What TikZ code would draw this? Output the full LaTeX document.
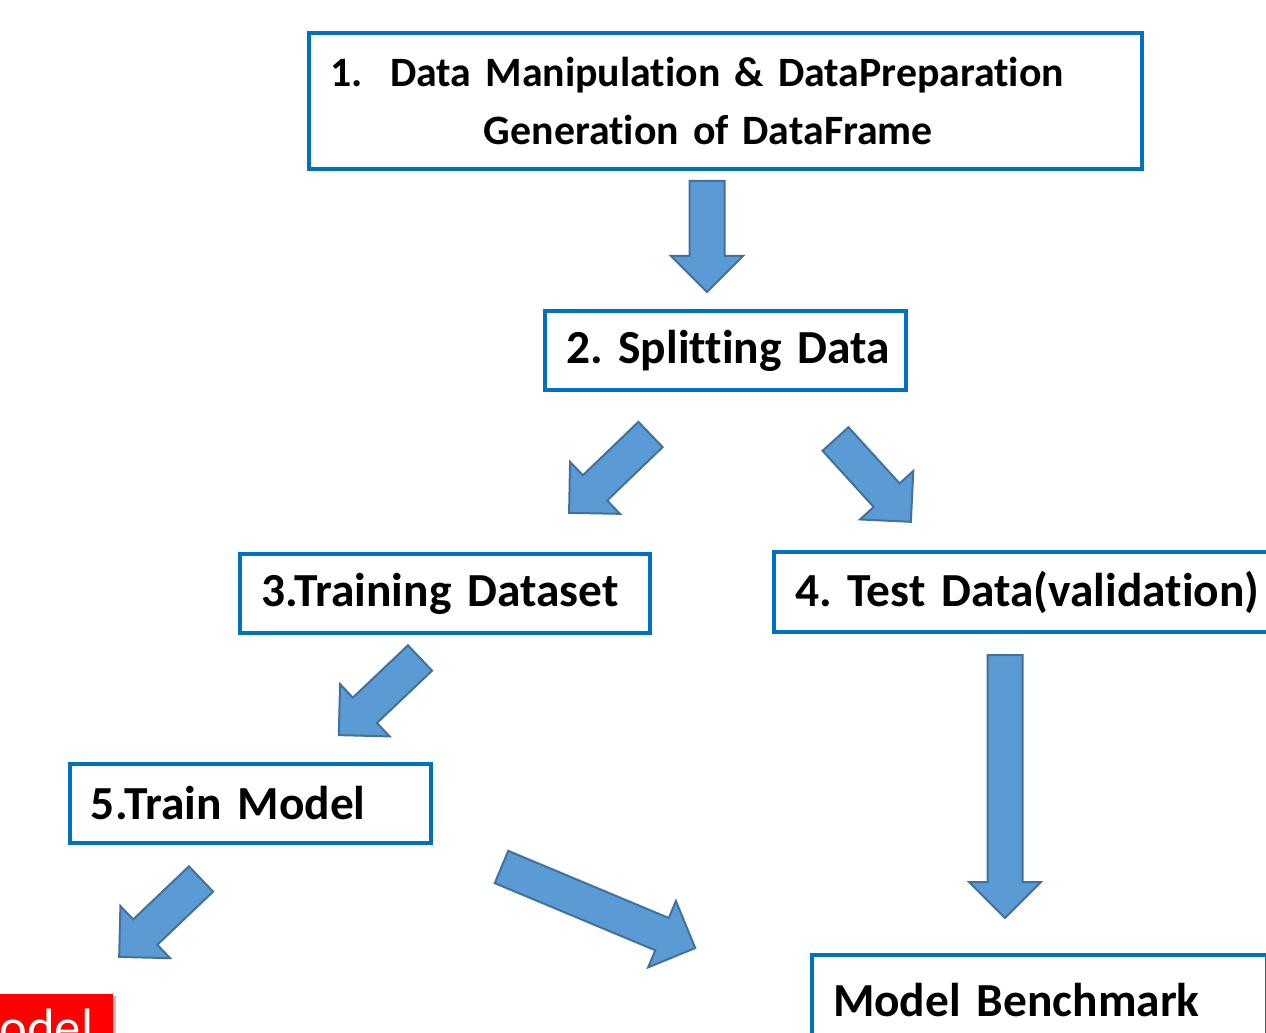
\documentclass[tikz,border=0pt]{standalone}
\usepackage{fontspec}
\setmainfont{Carlito}[Ligatures={NoCommon}]
\frenchspacing
\definecolor{boxblue}{HTML}{0070C0}
\definecolor{arrowfill}{HTML}{5B9BD5}
\definecolor{arrowdraw}{HTML}{41719C}
\definecolor{deployred}{HTML}{FF0000}
\tikzset{
	stage/.style={draw=boxblue, line width=0.08cm, fill=white, anchor=north west, inner xsep=0.42cm, inner ysep=0pt, align=left, font=\bfseries\fontsize{27}{33}\selectfont},
	barrow/.style={fill=arrowfill, draw=arrowdraw, line width=0.04cm, line join=miter}
}
% block arrow: tail point, angle, length
\newcommand{\blockarrow}[3]{\draw[barrow, shift={(#1)}, rotate=#2] (0,-17.5) -- ({#3-36},-17.5) -- ({#3-36},-36) -- (#3,0) -- ({#3-36},36) -- ({#3-36},17.5) -- (0,17.5) -- cycle;}
\begin{document}
\begin{tikzpicture}[x=0.02cm, y=0.02cm]
	\useasboundingbox (0,0) rectangle (1266,-1033);
	\clip (0,0) rectangle (1266,-1033);
	\fill[white] (0,0) rectangle (1266,-1033);

	% Boxes
	\node[stage, minimum width=16.66cm, minimum height=2.72cm, text width=15.82cm, font=\bfseries\fontsize{23.8}{33}\selectfont] (prep) at (307,-31) {1.\ \ Data Manipulation \& DataPreparation\\\hspace*{3.08cm}Generation of DataFrame};
	\node[stage, minimum width=7.22cm, minimum height=1.58cm, text width=6.38cm] (split) at (543,-309) {\mbox{2. Splitting Data}};
	\node[stage, minimum width=8.2cm, minimum height=1.58cm, text width=7.36cm] (train) at (238,-552) {\mbox{3.Training Dataset}};
	\node[stage, minimum width=10.4cm, minimum height=1.6cm, text width=9.56cm] (test) at (772,-550) {\mbox{4. Test Data(validation)}};
	\node[stage, minimum width=7.22cm, minimum height=1.58cm, text width=6.38cm] (model) at (68,-762) {5.Train Model};
	\node[stage, minimum width=9.1cm, minimum height=1.8cm, text width=8.26cm] (bench) at (810,-953) {Model Benchmark};

	% Red box (cut)
	\fill[black!25] (-20,-996) rectangle (116,-1060);
	\node[fill=deployred, anchor=north west, minimum width=2.66cm, minimum height=1.4cm, inner sep=0pt] (deploy) at (-20,-994) {};
	\node[anchor=base west, text=white, inner sep=0pt, font=\fontsize{30}{36}\selectfont] (deploytext) at (-1,-1045) {odel};

	% Arrows
	\blockarrow{707,-181}{-90}{111}
	\blockarrow{650.5,-434.5}{223.9}{113}
	\blockarrow{835.5,-439}{-47.7}{112}
	\blockarrow{420,-658}{223.5}{112}
	\blockarrow{201,-879}{223.6}{113}
	\blockarrow{501.5,-867}{-22.7}{210}
	\blockarrow{1005,-655}{-90}{263}
\end{tikzpicture}
\end{document}
